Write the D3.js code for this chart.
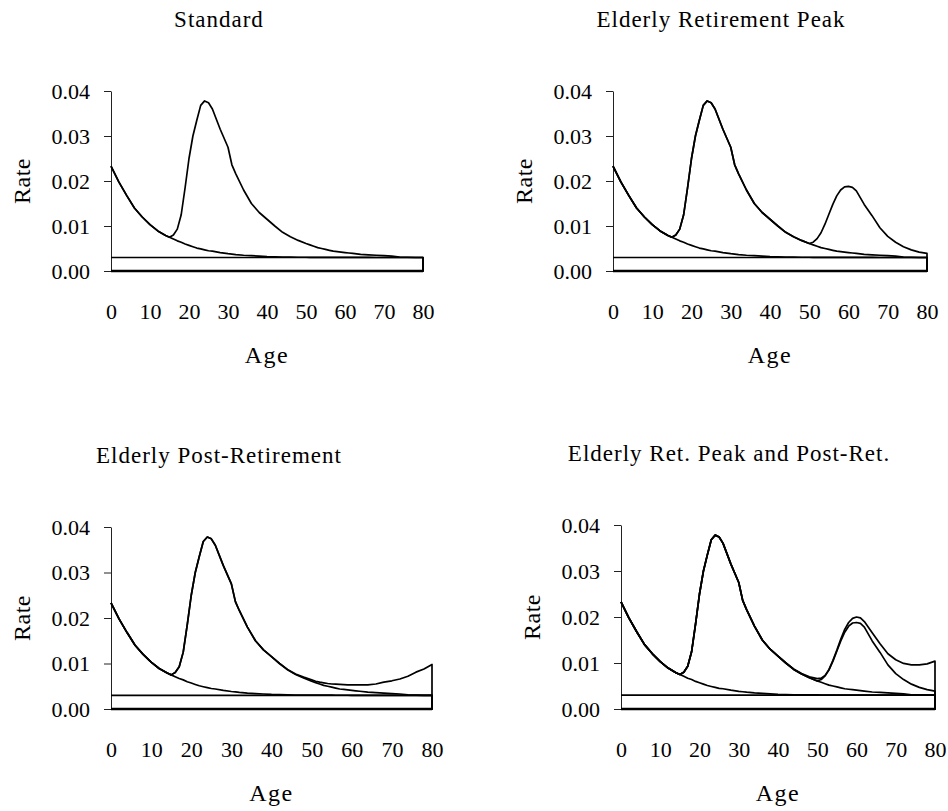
<!DOCTYPE html>
<html>
<head>
<meta charset="utf-8">
<script src="https://cdn.jsdelivr.net/npm/d3@7"></script>
<style>
  body { margin: 0; background: #fff; }
  svg { display: block; font-family: "Liberation Serif", "Times New Roman", serif; }
</style>
</head>
<body>
<svg id="chart" width="948" height="811"></svg>
<script>
const ages = [0, 2, 4, 6, 8, 10, 12, 14,
  15, 16, 17, 18, 19, 20, 21, 22, 23, 24, 25, 26,
  28, 30, 31, 32,
  34, 36, 38, 40, 42, 44, 46, 48, 50,
  51, 52, 53, 54, 55, 56, 57, 58, 59, 60, 61, 62,
  64, 66, 68, 70, 72, 74, 76, 78, 80];

const childhood = [0.0233, 0.0198, 0.0168, 0.0140, 0.0120, 0.0103, 0.0089, 0.0079,
  0.0075, 0.0071, 0.0067, 0.0064, 0.0060, 0.0057, 0.0054, 0.0051, 0.0049, 0.0047, 0.0045, 0.0044,
  0.0041, 0.00385, 0.00375, 0.00365,
  0.0035, 0.0034, 0.0033, 0.0032, 0.00315, 0.0031, 0.00308, 0.00306, 0.00305,
  0.00304, 0.00304, 0.00303, 0.00303, 0.00303, 0.00302, 0.00302, 0.00302, 0.00302, 0.00301, 0.00301, 0.00301,
  0.00301, 0.00301, 0.003, 0.003, 0.003, 0.003, 0.003, 0.003, 0.003];

const labor = [0.0233, 0.0198, 0.0168, 0.0140, 0.0120, 0.0103, 0.0089, 0.0079,
  0.0075, 0.0080, 0.0093, 0.0125, 0.0185, 0.0250, 0.0300, 0.0335, 0.0368, 0.0378, 0.0374, 0.0360,
  0.0315, 0.0275, 0.0236, 0.0216,
  0.0180, 0.0150, 0.0130, 0.0115, 0.0100, 0.0086, 0.0076, 0.0068, 0.0061,
  0.0058, 0.0055, 0.0052, 0.0050, 0.0048, 0.0046, 0.0044, 0.0043, 0.0042, 0.0041, 0.0040, 0.0039,
  0.0037, 0.0036, 0.0035, 0.0034, 0.0033, 0.0031, 0.00305, 0.003, 0.003];

const retirement = [0.0233, 0.0198, 0.0168, 0.0140, 0.0120, 0.0103, 0.0089, 0.0079,
  0.0075, 0.0080, 0.0093, 0.0125, 0.0185, 0.0250, 0.0300, 0.0335, 0.0368, 0.0378, 0.0374, 0.0360,
  0.0315, 0.0275, 0.0236, 0.0216,
  0.0180, 0.0150, 0.0130, 0.0115, 0.0100, 0.0086, 0.0076, 0.0068, 0.0061,
  0.0064, 0.0072, 0.0085, 0.0104, 0.0126, 0.0148, 0.0167, 0.0180, 0.0187, 0.0188, 0.0186, 0.0178,
  0.0148, 0.0123, 0.0096, 0.0077, 0.0064, 0.0054, 0.0047, 0.0042, 0.0039];

const postRet = [0.0233, 0.0198, 0.0168, 0.0140, 0.0120, 0.0103, 0.0089, 0.0079,
  0.0075, 0.0080, 0.0093, 0.0125, 0.0185, 0.0250, 0.0300, 0.0335, 0.0368, 0.0378, 0.0374, 0.0360,
  0.0315, 0.0275, 0.0236, 0.0216,
  0.0180, 0.0150, 0.0130, 0.0115, 0.0100, 0.0087, 0.0077, 0.0070, 0.0064,
  0.0061, 0.0059, 0.00575, 0.0056, 0.0055, 0.00545, 0.0054, 0.00535, 0.0053, 0.0053, 0.0053, 0.0053,
  0.0053, 0.0055, 0.0059, 0.0062, 0.0066, 0.0072, 0.0081, 0.0088, 0.0098];

const both = [0.0233, 0.0198, 0.0168, 0.0140, 0.0120, 0.0103, 0.0089, 0.0079,
  0.0075, 0.0080, 0.0093, 0.0125, 0.0185, 0.0250, 0.0300, 0.0335, 0.0368, 0.0378, 0.0374, 0.0360,
  0.0315, 0.0275, 0.0236, 0.0216,
  0.0180, 0.0150, 0.0130, 0.0115, 0.0100, 0.0087, 0.0077, 0.0070, 0.0066,
  0.0067, 0.0073, 0.0086, 0.0106, 0.0128, 0.0152, 0.0173, 0.0188, 0.0197, 0.0200, 0.0198, 0.0190,
  0.0166, 0.0142, 0.0120, 0.0107, 0.0099, 0.0096, 0.0096, 0.0098, 0.0104];

const constantAges = [0, 80];
const constantRate = [0.003, 0.003];

const panelTitles = ["Standard", "Elderly Retirement Peak", "Elderly Post-Retirement", "Elderly Ret. Peak and Post-Ret."];
const panelSeries = [
  [childhood, labor],
  [childhood, labor, retirement],
  [childhood, labor, postRet],
  [childhood, labor, retirement, both]
];
const xTicks = [0, 10, 20, 30, 40, 50, 60, 70, 80];
const yTicks = [0, 0.01, 0.02, 0.03, 0.04];

// plot boxes
const boxes = [
  { left: 111, right: 423, top: 91, bottom: 271, titleY: 27 },
  { left: 613, right: 927, top: 91, bottom: 271, titleY: 27 },
  { left: 111, right: 432, top: 527, bottom: 709, titleY: 463 },
  { left: 621, right: 935, top: 525, bottom: 709, titleY: 461 }
];

const svg = d3.select("#chart");

boxes.forEach((b, i) => {
  const x = d3.scaleLinear().domain([0, 80]).range([b.left, b.right]);
  const y = d3.scaleLinear().domain([0, 0.04]).range([b.bottom, b.top]);
  const g = svg.append("g");

  g.append("text")
    .attr("x", b.left + 108)
    .attr("y", b.titleY)
    .attr("text-anchor", "middle")
    .style("font-size", "23px")
    .style("letter-spacing", "1px")
    .text(panelTitles[i]);

  // y axis
  const yAxis = g.append("g")
    .attr("transform", `translate(${b.left},0)`)
    .call(d3.axisLeft(y).tickValues(yTicks).tickFormat(d3.format(".2f"))
      .tickSize(7).tickSizeOuter(0).tickPadding(14));
  yAxis.selectAll("path, line").attr("stroke", "#222").attr("stroke-width", 1);
  yAxis.selectAll("text").style("font-size", "22px").style("font-family", "Liberation Serif").attr("fill", "#000");

  // x axis: labels only
  const xAxis = g.append("g")
    .attr("transform", `translate(0,${b.bottom})`)
    .call(d3.axisBottom(x).tickValues(xTicks).tickSize(0).tickPadding(32));
  xAxis.select(".domain").remove();
  xAxis.selectAll("text").style("font-size", "22px").style("font-family", "Liberation Serif").attr("fill", "#000");

  g.append("text")
    .attr("transform", `translate(${b.left - 89},${(b.top + b.bottom) / 2}) rotate(-90)`)
    .attr("text-anchor", "middle")
    .attr("dy", "0.35em")
    .style("font-size", "24px")
    .style("letter-spacing", "0.5px")
    .text("Rate");

  g.append("text")
    .attr("x", (b.left + b.right) / 2)
    .attr("y", b.bottom + 92)
    .attr("text-anchor", "middle")
    .style("font-size", "24px")
    .style("letter-spacing", "1.5px")
    .text("Age");

  // each schedule is outlined down the right edge and back along the base, like the source
  const outline = d3.line().x(d => x(d[0])).y(d => y(d[1]));
  const drawSeries = (xs, vals) => {
    const pts = xs.map((a, k) => [a, vals[k]]);
    pts.push([xs[xs.length - 1], 0], [xs[0], 0]);
    g.append("path")
      .attr("d", outline(pts))
      .attr("fill", "none")
      .attr("stroke", "#000")
      .attr("stroke-width", 1.7)
      .attr("stroke-linejoin", "round");
  };

  drawSeries(constantAges, constantRate);
  panelSeries[i].forEach(vals => drawSeries(ages, vals));

  g.append("line")
    .attr("x1", x(0)).attr("x2", x(80))
    .attr("y1", y(0)).attr("y2", y(0))
    .attr("stroke", "#000")
    .attr("stroke-width", 2.6);
});
</script>
</body>
</html>
